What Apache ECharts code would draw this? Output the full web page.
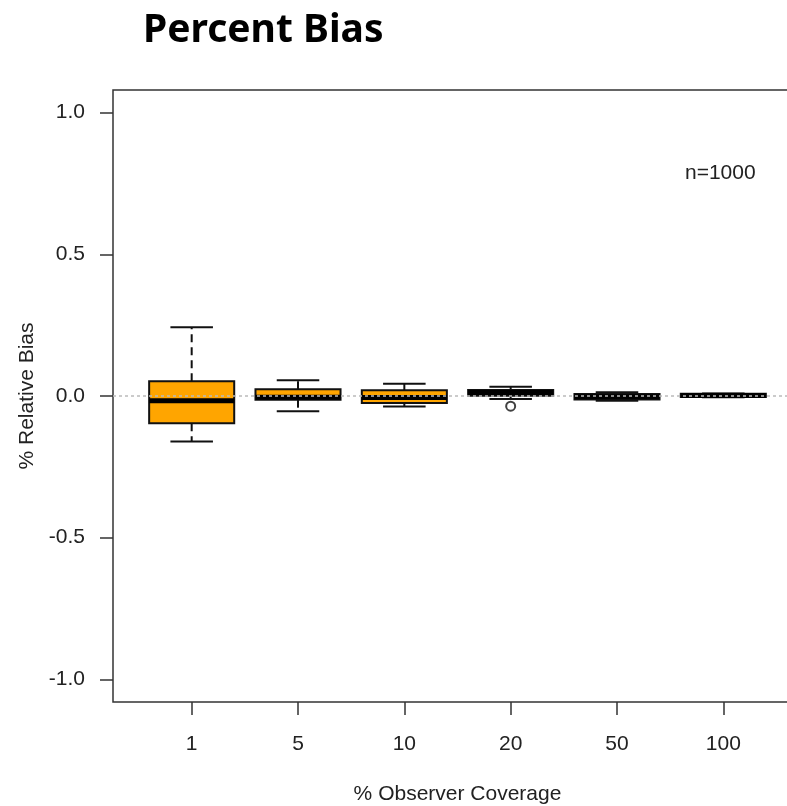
<!DOCTYPE html>
<html>
<head>
    <meta charset="utf-8">
    <title>Percent Bias</title>
    <style>
        html, body { margin: 0; padding: 0; background: #fff; }
        #main { width: 787px; height: 806px; }
    </style>
</head>
<body>
<div id="main"></div>
<script src="https://cdn.jsdelivr.net/npm/echarts@6/dist/echarts.min.js"></script>
<script>
    // data
    var categories = ['1', '5', '10', '20', '50', '100'];
    var whiskerLow = [-0.161, -0.054, -0.037, -0.011, -0.017, -0.004];
    var q1 = [-0.096, -0.013, -0.025, 0.001, -0.0125, -0.0035];
    var median = [-0.017, -0.004, -0.005, 0.012, -0.003, 0.002];
    var q3 = [0.052, 0.024, 0.020, 0.021, 0.007, 0.008];
    var whiskerHigh = [0.243, 0.056, 0.043, 0.033, 0.013, 0.009];
    var outliers = [[4, -0.036]];
    var yTicks = [-1, -0.5, 0, 0.5, 1];

    var boxData = [];
    for (var i = 0; i < categories.length; i++) {
        boxData.push([i + 1, whiskerLow[i], q1[i], median[i], q3[i], whiskerHigh[i]]);
    }

    function renderBox(params, api) {
        var x = api.value(0);
        var pMin = api.coord([x, api.value(1)]);
        var pQ1 = api.coord([x, api.value(2)]);
        var pMed = api.coord([x, api.value(3)]);
        var pQ3 = api.coord([x, api.value(4)]);
        var pMax = api.coord([x, api.value(5)]);
        var w = api.size([0.8, 0])[0];
        var cap = w / 2;
        var cx = pMed[0];
        var lineCol = '#111';
        return {
            type: 'group',
            children: [
                {type: 'line', shape: {x1: cx, y1: pQ3[1], x2: cx, y2: pMax[1]},
                    style: {stroke: lineCol, lineWidth: 2, lineDash: [8, 5]}},
                {type: 'line', shape: {x1: cx, y1: pQ1[1], x2: cx, y2: pMin[1]},
                    style: {stroke: lineCol, lineWidth: 2, lineDash: [8, 5]}},
                {type: 'line', shape: {x1: cx - cap / 2, y1: pMax[1], x2: cx + cap / 2, y2: pMax[1]},
                    style: {stroke: lineCol, lineWidth: 2}},
                {type: 'line', shape: {x1: cx - cap / 2, y1: pMin[1], x2: cx + cap / 2, y2: pMin[1]},
                    style: {stroke: lineCol, lineWidth: 2}},
                {type: 'rect', shape: {x: cx - w / 2, y: pQ3[1], width: w, height: pQ1[1] - pQ3[1]},
                    style: {fill: '#FFA500', stroke: lineCol, lineWidth: 2}},
                {type: 'line', shape: {x1: cx - w / 2, y1: pMed[1], x2: cx + w / 2, y2: pMed[1]},
                    style: {stroke: '#000', lineWidth: 5}}
            ]
        };
    }

    var chart = echarts.init(document.getElementById('main'));
    var font = 'Liberation Sans, Arial, sans-serif';
    var option = {
        animation: false,
        backgroundColor: '#fff',
        title: {
            text: 'Percent Bias',
            left: 138,
            top: 6,
            textStyle: {fontFamily: 'Noto Sans', fontWeight: 'bold', fontSize: 39, color: '#000'}
        },
        grid: {
            left: 113, top: 90, width: 689, height: 612,
            outerBoundsMode: 'none',
            show: true, borderColor: '#333', borderWidth: 1.5, backgroundColor: 'transparent'
        },
        xAxis: {
            type: 'value', min: 0.26, max: 6.74,
            name: '% Observer Coverage', nameLocation: 'middle', nameGap: 82,
            nameTextStyle: {fontFamily: font, fontSize: 21, color: '#222'},
            axisLine: {show: false, onZero: false},
            splitLine: {show: false},
            axisTick: {customValues: [1, 2, 3, 4, 5, 6], length: 13, lineStyle: {color: '#333', width: 1.5}},
            axisLabel: {
                customValues: [1, 2, 3, 4, 5, 6], margin: 32,
                fontFamily: font, fontSize: 21, color: '#222',
                formatter: function (v) { return categories[Math.round(v) - 1]; }
            }
        },
        yAxis: {
            type: 'value', min: -1.08, max: 1.08,
            name: '% Relative Bias', nameLocation: 'middle', nameRotate: 90, nameGap: 68,
            nameTextStyle: {fontFamily: font, fontSize: 21, color: '#222'},
            axisLine: {show: false, onZero: false},
            splitLine: {show: false},
            axisTick: {customValues: yTicks, length: 13, lineStyle: {color: '#333', width: 1.5}},
            axisLabel: {
                customValues: yTicks, margin: 28,
                fontFamily: font, fontSize: 21, color: '#222',
                formatter: function (v) { return v.toFixed(1); }
            }
        },
        graphic: [{
            type: 'text', left: 685, top: 163,
            style: {text: 'n=1000', font: '21px ' + font, fill: '#222'}
        }],
        series: [
            {
                type: 'scatter', z: 1, data: [], silent: true,
                markLine: {
                    silent: true, symbol: 'none', label: {show: false},
                    lineStyle: {color: '#bbb', type: [3, 3], width: 1.5},
                    data: [{yAxis: 0}]
                }
            },
            {
                type: 'custom', z: 3,
                renderItem: renderBox,
                encode: {x: 0, y: [1, 2, 3, 4, 5]},
                data: boxData
            },
            {
                type: 'scatter', z: 4,
                symbol: 'emptyCircle', symbolSize: 9,
                itemStyle: {color: '#111', borderWidth: 1.8},
                data: outliers
            }
        ]
    };
    chart.setOption(option);
</script>
</body>
</html>
